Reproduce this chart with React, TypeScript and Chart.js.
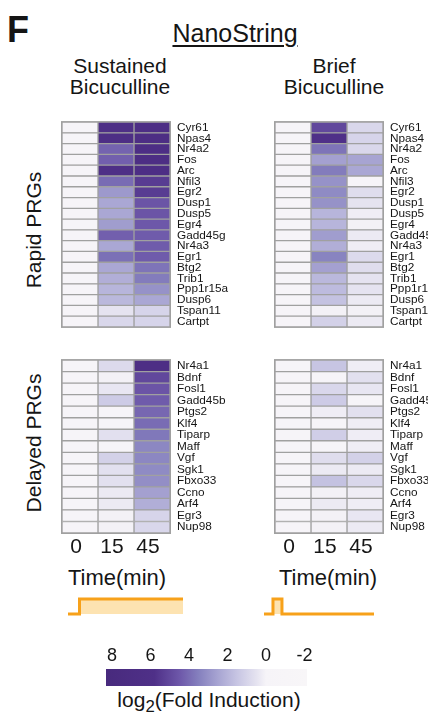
import React, { useEffect, useRef } from 'react';
import { Chart, registerables } from 'chart.js';

Chart.register(...registerables);

const FONT = '"Liberation Sans", Arial, Helvetica, sans-serif';
const GRID_COLOR = '#a0a0a0';
const TEXT_COLOR = '#151515';

// ---------- data ----------
const timeLabels = ['0', '15', '45'];

const rapidGenes = ['Cyr61', 'Npas4', 'Nr4a2', 'Fos', 'Arc', 'Nfil3', 'Egr2', 'Dusp1', 'Dusp5', 'Egr4',
  'Gadd45g', 'Nr4a3', 'Egr1', 'Btg2', 'Trib1', 'Ppp1r15a', 'Dusp6', 'Tspan11', 'Cartpt'];
const delayedGenes = ['Nr4a1', 'Bdnf', 'Fosl1', 'Gadd45b', 'Ptgs2', 'Klf4', 'Tiparp', 'Maff', 'Vgf', 'Sgk1',
  'Fbxo33', 'Ccno', 'Arf4', 'Egr3', 'Nup98'];

// log2 fold induction, sustained bicuculline
const sustainedRapid0 = [0, 0, 0, 0, 0, 0, 0, 0, 0, 0, 0, 0, 0, 0, 0, 0, 0, 0, 0];
const sustainedRapid15 = [6.2, 6.6, 4.2, 4.3, 6.2, 4.0, 2.8, 2.4, 2.4, 2.7, 4.3, 2.4, 3.9, 2.4, 2.2, 2.0, 1.9, 0.5, 0.9];
const sustainedRapid45 = [6.6, 6.7, 6.6, 6.7, 6.6, 5.4, 5.4, 4.6, 4.6, 4.5, 4.4, 4.4, 4.4, 3.8, 3.6, 3.0, 2.4, 1.0, 1.0];
const sustainedDelayed0 = [0, 0, 0, 0, 0, 0, 0, 0, 0, 0, 0, 0, 0, 0, 0];
const sustainedDelayed15 = [0.8, 0.1, 0.4, 1.3, 0.0, 0.0, 0.6, 0.0, 1.1, 0.6, 0.6, 0.3, 0.3, 0.1, 0.1];
const sustainedDelayed45 = [6.5, 5.0, 4.6, 4.4, 4.1, 4.0, 3.7, 3.3, 3.3, 3.2, 3.1, 2.6, 2.2, 1.0, 0.9];

// log2 fold induction, brief bicuculline
const briefRapid0 = [0, 0, 0, 0, 0, 0, 0, 0, 0, 0, 0, 0, 0, 0, 0, 0, 0, 0, 0];
const briefRapid15 = [5.0, 5.9, 3.8, 2.6, 3.6, 3.0, 3.2, 3.0, 2.0, 2.0, 2.7, 2.2, 3.4, 2.6, 1.9, 1.8, 1.6, 0.1, 1.1];
const briefRapid45 = [0.9, 1.0, 0.9, 2.5, 2.4, 0.0, 0.7, 0.5, 0.2, 0.1, 0.3, 0.2, 0.8, 0.7, 0.5, 0.5, 0.3, 0.1, 0.3];
const briefDelayed0 = [0, 0, 0, 0, 0, 0, 0, 0, 0, 0, 0, 0, 0, 0, 0];
const briefDelayed15 = [1.5, 0.0, 0.9, 1.3, 0.2, 0.0, 1.2, 0.0, 0.7, 0.3, 1.6, 0.1, 0.3, 0.1, 0.1];
const briefDelayed45 = [0.2, 0.6, 0.4, 0.0, 0.6, 0.2, 0.2, 0.2, 1.1, 0.3, 0.9, 0.2, 0.2, 0.4, 0.3];

// colour scale (log2 fold induction -> colour)
const colorStops: [number, string][] = [
  [-2.2, '#f8f6f8'],
  [0, '#f6f4f8'],
  [0.5, '#e5e3f0'],
  [1.5, '#c7c5e3'],
  [2.5, '#a7a4d2'],
  [3.5, '#8580be'],
  [4.5, '#6d57a9'],
  [5.8, '#4f3088'],
  [8.4, '#482a7d'],
];
const colorbarTicks = [8, 6, 4, 2, 0, -2];
const colorbarMin = -2.13;
const colorbarMax = 8.31;

// stimulus schematics (minutes, on/off)
const sustainedTime = [-5, 0, 0, 45];
const sustainedLevel = [0, 0, 1, 1];
const briefTime = [-4, 0, 0, 4, 4, 45];
const briefLevel = [0, 0, 1, 1, 0, 0];

// ---------- helpers ----------
function hexToRgb(h: string) {
  const n = parseInt(h.slice(1), 16);
  return [(n >> 16) & 255, (n >> 8) & 255, n & 255];
}
function colorFor(v: number): string {
  if (v <= colorStops[0][0]) return colorStops[0][1];
  for (let i = 1; i < colorStops.length; i++) {
    const [v1, c1] = colorStops[i];
    if (v <= v1) {
      const [v0, c0] = colorStops[i - 1];
      const t = (v - v0) / (v1 - v0);
      const a = hexToRgb(c0);
      const b = hexToRgb(c1);
      const m = a.map((x, k) => Math.round(x + (b[k] - x) * t));
      return `rgb(${m[0]},${m[1]},${m[2]})`;
    }
  }
  return colorStops[colorStops.length - 1][1];
}

const framePlugin = {
  id: 'frame',
  afterDatasetsDraw(chart: any) {
    const { ctx, chartArea: a } = chart;
    ctx.save();
    ctx.strokeStyle = GRID_COLOR;
    ctx.lineWidth = 1;
    ctx.strokeRect(a.left - 0.5, a.top - 0.5, a.right - a.left + 1, a.bottom - a.top + 1);
    ctx.restore();
  },
};

const PAD = 2;

type HeatProps = {
  genes: string[];
  columns: number[][];
  left: number;
  top: number;
  gridWidth: number;
  gridHeight: number;
  labelWidth: number;
  showTime: boolean;
};

function HeatChart({ genes, columns, left, top, gridWidth, gridHeight, labelWidth, showTime }: HeatProps) {
  const ref = useRef<HTMLCanvasElement>(null);
  const axisH = showTime ? 24 : 0;
  const w = PAD + gridWidth + labelWidth;
  const h = PAD + gridHeight + (showTime ? axisH : PAD);
  useEffect(() => {
    const chart = new Chart(ref.current!, {
      type: 'bar',
      data: {
        labels: genes,
        datasets: columns.map((vals, c) => ({
          data: genes.map(() => [c, c + 1]),
          backgroundColor: vals.map(colorFor),
          borderColor: GRID_COLOR,
          borderWidth: 1,
          borderSkipped: false,
          grouped: false,
          barPercentage: 1,
          categoryPercentage: 1,
        })),
      } as any,
      options: {
        indexAxis: 'y',
        animation: false,
        responsive: false,
        events: [],
        layout: { padding: { left: PAD, top: PAD, right: 0, bottom: showTime ? 0 : PAD } },
        plugins: { legend: { display: false }, tooltip: { enabled: false } },
        scales: {
          x: {
            type: 'linear',
            min: 0,
            max: 3,
            position: 'bottom',
            display: showTime,
            grid: { display: false, drawTicks: false },
            border: { display: false },
            afterBuildTicks: (axis: any) => {
              axis.ticks = timeLabels.map((_, i) => ({ value: i + 0.5 }));
            },
            afterFit: (s: any) => {
              s.height = axisH;
            },
            ticks: {
              autoSkip: false,
              maxRotation: 0,
              padding: 2,
              labelOffset: -4,
              color: TEXT_COLOR,
              font: { family: FONT, size: 21 },
              callback: (v: any) => timeLabels[Math.floor(Number(v))],
            },
          },
          y: {
            type: 'category',
            position: 'right',
            grid: { display: false, drawTicks: false },
            border: { display: false },
            afterFit: (s: any) => {
              s.width = labelWidth;
            },
            ticks: {
              autoSkip: false,
              padding: 7,
              color: TEXT_COLOR,
              font: { family: FONT, size: 11.8 },
            },
          },
        },
      } as any,
      plugins: [framePlugin],
    });
    return () => chart.destroy();
  }, []);
  return (
    <canvas
      ref={ref}
      width={w}
      height={h}
      style={{ position: 'absolute', left: left - PAD, top: top - PAD, width: w, height: h, display: 'block' }}
    />
  );
}

function ColorBar() {
  const ref = useRef<HTMLCanvasElement>(null);
  const left = 96;
  const top = 644;
  const w = 224;
  const h = 43;
  useEffect(() => {
    const chart = new Chart(ref.current!, {
      type: 'bar',
      data: {
        labels: [''],
        datasets: [
          {
            data: [[colorbarMin, colorbarMax]],
            borderWidth: 0,
            barPercentage: 1,
            categoryPercentage: 1,
            backgroundColor: (ctx: any) => {
              const chart = ctx.chart;
              const xs = chart.scales.x;
              if (!chart.chartArea || !xs) return colorFor(0);
              const x0 = xs.getPixelForValue(colorbarMax);
              const x1 = xs.getPixelForValue(colorbarMin);
              const g = chart.ctx.createLinearGradient(x0, 0, x1, 0);
              g.addColorStop(0, colorFor(colorbarMax));
              colorStops.forEach(([v, c]) => {
                const t = (xs.getPixelForValue(v) - x0) / (x1 - x0);
                if (t > 0 && t < 1) g.addColorStop(t, c);
              });
              g.addColorStop(1, colorFor(colorbarMin));
              return g;
            },
          },
        ],
      } as any,
      options: {
        indexAxis: 'y',
        animation: false,
        responsive: false,
        events: [],
        layout: { padding: { left: 10, right: 13, top: 0, bottom: 1 } },
        plugins: { legend: { display: false }, tooltip: { enabled: false } },
        scales: {
          x: {
            type: 'linear',
            reverse: true,
            min: colorbarMin,
            max: colorbarMax,
            position: 'top',
            grid: { display: false, drawTicks: false },
            border: { display: false },
            afterBuildTicks: (axis: any) => {
              axis.ticks = colorbarTicks.map((v) => ({ value: v }));
            },
            afterFit: (s: any) => {
              s.height = 25;
            },
            ticks: {
              autoSkip: false,
              maxRotation: 0,
              padding: 2,
              color: TEXT_COLOR,
              font: { family: FONT, size: 18 },
              callback: (v: any) => String(v),
            },
          },
          y: { display: false },
        },
      } as any,
    });
    return () => chart.destroy();
  }, []);
  return (
    <canvas
      ref={ref}
      width={w}
      height={h}
      style={{ position: 'absolute', left, top, width: w, height: h, display: 'block' }}
    />
  );
}

function Stimulus({ times, levels, left, top, width, min, max }: { times: number[]; levels: number[]; left: number; top: number; width: number; min: number; max: number }) {
  const ref = useRef<HTMLCanvasElement>(null);
  const h = 23;
  useEffect(() => {
    const chart = new Chart(ref.current!, {
      type: 'line',
      data: {
        datasets: [
          {
            data: times.map((t, i) => ({ x: t, y: levels[i] })),
            borderColor: '#f7a11a',
            borderWidth: 3,
            backgroundColor: '#fde3b1',
            fill: 'origin',
            pointRadius: 0,
            tension: 0,
            borderJoinStyle: 'miter',
            borderCapStyle: 'butt',
            clip: false,
          },
        ],
      } as any,
      options: {
        animation: false,
        responsive: false,
        events: [],
        layout: { padding: 4 },
        plugins: { legend: { display: false }, tooltip: { enabled: false } },
        scales: {
          x: { type: 'linear', display: false, min, max },
          y: { type: 'linear', display: false, min: 0, max: 1 },
        },
      } as any,
    });
    return () => chart.destroy();
  }, []);
  return (
    <canvas
      ref={ref}
      width={width}
      height={h}
      style={{ position: 'absolute', left, top, width, height: h, display: 'block' }}
    />
  );
}

const textBase: React.CSSProperties = {
  position: 'absolute',
  fontFamily: FONT,
  color: TEXT_COLOR,
  whiteSpace: 'nowrap',
  lineHeight: 1,
};

function Centered({ x, top, size, children, style }: { x: number; top: number; size: number; children: React.ReactNode; style?: React.CSSProperties }) {
  return (
    <div style={{ ...textBase, left: x, top, fontSize: size, transform: 'translateX(-50%)', textAlign: 'center', ...style }}>
      {children}
    </div>
  );
}

function Vertical({ x, y, size, children }: { x: number; y: number; size: number; children: React.ReactNode }) {
  return (
    <div
      style={{
        ...textBase,
        left: x,
        top: y,
        fontSize: size,
        transform: 'translate(-50%, -50%) rotate(-90deg)',
      }}
    >
      {children}
    </div>
  );
}

export default function App() {
  return (
    <div style={{ position: 'absolute', left: 0, top: 0, width: 428, height: 717, background: '#fff', overflow: 'hidden' }}>
      <div style={{ ...textBase, left: 7, top: 12, fontSize: 36, fontWeight: 'bold' }}>F</div>
      <Centered x={235} top={21} size={25} style={{ textDecoration: 'underline', textDecorationThickness: 1.5, textUnderlineOffset: 3 }}>
        NanoString
      </Centered>
      <Centered x={120} top={55} size={21} style={{ lineHeight: '21px' }}>
        Sustained
        <br />
        Bicuculline
      </Centered>
      <Centered x={334} top={55} size={21} style={{ lineHeight: '21px' }}>
        Brief
        <br />
        Bicuculline
      </Centered>

      <Vertical x={33} y={230} size={21}>Rapid PRGs</Vertical>
      <Vertical x={33} y={443} size={21}>Delayed PRGs</Vertical>

      <HeatChart
        genes={rapidGenes}
        columns={[sustainedRapid0, sustainedRapid15, sustainedRapid45]}
        left={62}
        top={110}
        gridWidth={108}
        gridHeight={229}
        labelWidth={70}
        showTime={false}
      />
      <HeatChart
        genes={delayedGenes}
        columns={[sustainedDelayed0, sustainedDelayed15, sustainedDelayed45]}
        left={62}
        top={348}
        gridWidth={108}
        gridHeight={185}
        labelWidth={70}
        showTime={true}
      />
      <HeatChart
        genes={rapidGenes}
        columns={[briefRapid0, briefRapid15, briefRapid45]}
        left={275}
        top={110}
        gridWidth={108}
        gridHeight={229}
        labelWidth={45}
        showTime={false}
      />
      <HeatChart
        genes={delayedGenes}
        columns={[briefDelayed0, briefDelayed15, briefDelayed45]}
        left={275}
        top={348}
        gridWidth={108}
        gridHeight={185}
        labelWidth={45}
        showTime={true}
      />

      <Centered x={117} top={567} size={22}>Time(min)</Centered>
      <Centered x={328} top={567} size={22}>Time(min)</Centered>

      <Stimulus times={sustainedTime} levels={sustainedLevel} left={64} top={595} width={123} min={-5} max={45} />
      <Stimulus times={briefTime} levels={briefLevel} left={260} top={595} width={118} min={-4} max={45} />

      <ColorBar />
      <Centered x={209} top={689} size={21}>
        log<sub style={{ fontSize: '80%', verticalAlign: 'sub', lineHeight: 0 }}>2</sub>(Fold Induction)
      </Centered>
    </div>
  );
}
